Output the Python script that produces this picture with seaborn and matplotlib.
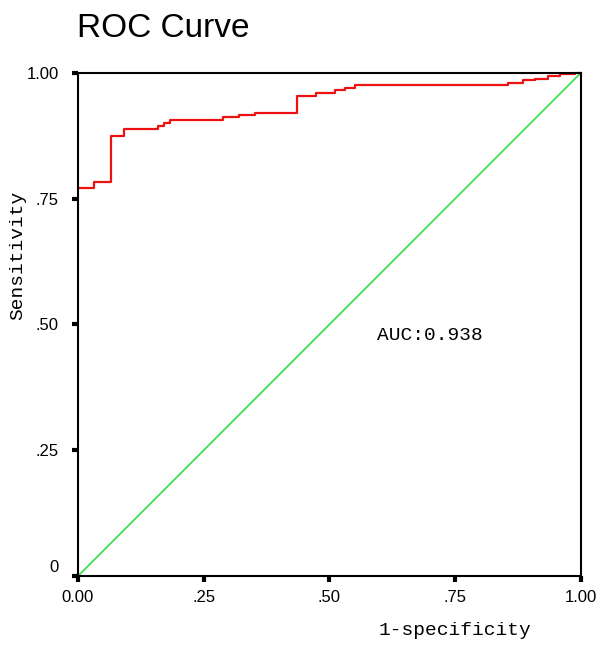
import matplotlib
matplotlib.use("Agg")
import matplotlib.pyplot as plt
import matplotlib.transforms as mtransforms
import seaborn as sns

# ROC curve step corners (1-specificity, sensitivity)
fpr = [0.0, 0.032, 0.065, 0.092, 0.160, 0.171, 0.183, 0.289, 0.321, 0.353,
       0.435, 0.473, 0.511, 0.531, 0.551, 0.855, 0.885, 0.909, 0.934, 0.958,
       0.988, 1.0]
tpr = [0.771, 0.783, 0.875, 0.888, 0.894, 0.900, 0.907, 0.912, 0.916, 0.921,
       0.955, 0.961, 0.966, 0.970, 0.976, 0.979, 0.985, 0.988, 0.994, 0.997,
       1.0, 1.0]
ref_line = [0.0, 1.0]
auc_text = "AUC:0.938"

x_ticks = [0, 0.25, 0.5, 0.75, 1.0]
x_labels = ["0.00", ".25", ".50", ".75", "1.00"]
y_ticks = [0, 0.25, 0.5, 0.75, 1.0]
y_labels = ["0", ".25", ".50", ".75", "1.00"]

sns.set_style("white")
plt.rcParams["font.family"] = ["Liberation Sans", "DejaVu Sans"]
plt.rcParams["text.color"] = "black"
mono = ["Liberation Mono", "DejaVu Sans Mono"]

fig = plt.figure(figsize=(6, 6.5), dpi=100)
ax = fig.add_axes([0.13, 0.1138, 0.838, 0.774])

sns.lineplot(x=ref_line, y=ref_line, color="#33dd44", linewidth=1.2, ax=ax,
             estimator=None, sort=False, clip_on=False)
sns.lineplot(x=fpr, y=tpr, color="#ee1111", linewidth=1.6, ax=ax,
             estimator=None, sort=False, drawstyle="steps-post", clip_on=False)

ax.set_xlim(0, 1)
ax.set_ylim(0, 1)
ax.set_xticks(x_ticks)
ax.set_xticklabels(x_labels)
ax.set_yticks(y_ticks)
ax.set_yticklabels(y_labels)
ax.tick_params(axis="both", bottom=True, left=True, direction="out", length=4,
               width=3, color="black", labelsize=12, labelcolor="black")
ax.tick_params(axis="x", pad=6)
ax.tick_params(axis="y", pad=10)

# the "0" label on the y axis sits a bit above its tick
zero_lbl = ax.get_yticklabels()[0]
zero_lbl.set_transform(zero_lbl.get_transform() +
                       mtransforms.ScaledTranslation(0, 0.1, fig.dpi_scale_trans))

for sp in ax.spines.values():
    sp.set_color("black")
    sp.set_linewidth(1.5)
    sp.set_zorder(5)

ax.set_xlabel("")
ax.set_ylabel("")
ax.text(0.75, -0.108, "1-specificity", transform=ax.transAxes, ha="center",
        va="center", fontsize=14, family=mono)
ax.text(-0.119, 0.638, "Sensitivity", transform=ax.transAxes, ha="center",
        va="center", rotation=90, fontsize=14, family=mono)
ax.text(0.70, 0.479, auc_text, ha="center", va="center", fontsize=14, family=mono)

fig.text(77 / 600, 1 - 37 / 650, "ROC Curve", ha="left", va="baseline",
         fontsize=24, color="black")

fig.savefig("out.png", dpi=100, facecolor="white")
